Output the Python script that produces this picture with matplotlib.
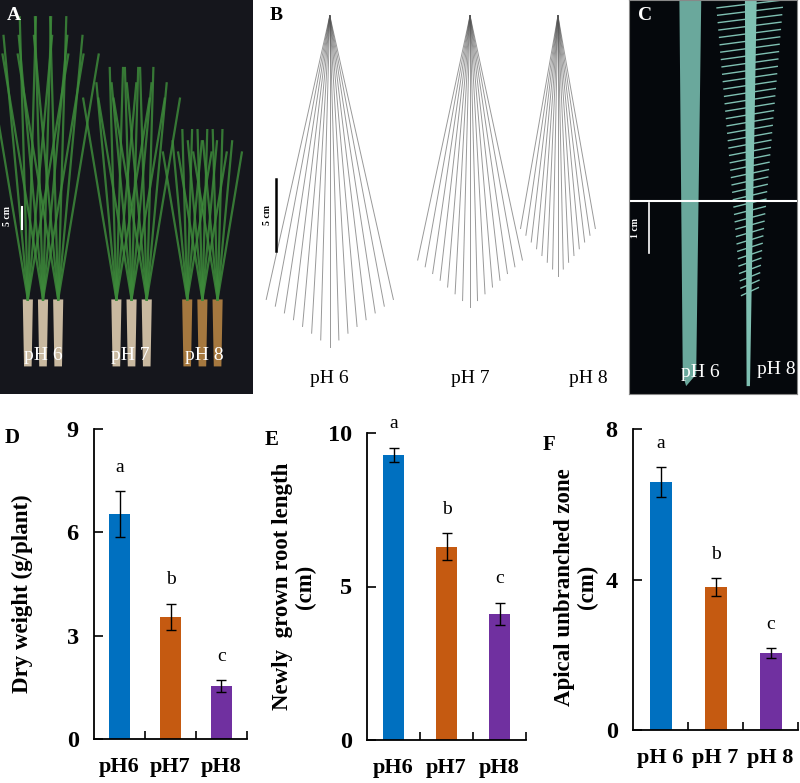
import matplotlib.pyplot as plt
import numpy as np
from matplotlib.patches import Polygon

plt.rcParams['font.family'] = ['Liberation Serif', 'DejaVu Serif']

W, H = 800, 783

# bar chart data (D, E, F)
groups_d = ['pH6', 'pH7', 'pH8']
dry_weight = [6.53, 3.54, 1.54]
dry_weight_err = [0.67, 0.38, 0.17]
letters_d = ['a', 'b', 'c']

groups_e = ['pH6', 'pH7', 'pH8']
root_length = [9.28, 6.30, 4.10]
root_length_err = [0.24, 0.43, 0.37]
letters_e = ['a', 'b', 'c']

groups_f = ['pH 6', 'pH 7', 'pH 8']
unbranched = [6.58, 3.79, 2.04]
unbranched_err = [0.40, 0.24, 0.13]
letters_f = ['a', 'b', 'c']

colors = ['#0070C0', '#C55A11', '#7030A0']

fig = plt.figure(figsize=(W / 100, H / 100), dpi=100)


def px_axes(x0, y0, x1, y1):
    # pixel box (top-left origin) -> figure axes
    return fig.add_axes([x0 / W, 1 - y1 / H, (x1 - x0) / W, (y1 - y0) / H])


def ftext(x, y, s, **kw):
    fig.text(x / W, 1 - y / H, s, ha='center', va='center', **kw)


def bare(ax):
    ax.set_xlim(0, 1); ax.set_ylim(0, 1)
    ax.set_xticks([]); ax.set_yticks([])


# ---------- photo panels (schematic) ----------
axA = px_axes(0, 0, 253, 394)
axA.set_facecolor('#15161c')
bare(axA)
for s in axA.spines.values():
    s.set_visible(False)
plant_base = [(0.17, 1.0), (0.52, 0.82), (0.80, 0.6)]
for bx, h in plant_base:
    for dx in (-0.06, 0.0, 0.06):
        x0 = bx + dx
        axA.add_patch(Polygon([[x0 - 0.02, 0.24], [x0 + 0.02, 0.24], [x0 + 0.015, 0.07],
                               [x0 - 0.015, 0.07]], closed=True,
                              color='#c9b9a0' if h > 0.7 else '#a5783f', lw=0))
        for a in np.linspace(-0.16, 0.16, 6):
            axA.plot([x0, x0 + a * h], [0.24, 0.24 + 0.74 * h * (1 - abs(a))],
                     color='#3d8a3a', lw=1.6, alpha=0.85)
axA.plot([22 / 253, 22 / 253], [1 - 207 / 394, 1 - 229 / 394], color='white', lw=1.5)
ftext(7, 216, '5 cm', color='white', fontsize=7, fontweight='bold', rotation=90)
ftext(14, 16, 'A', color='white', fontsize=14, fontweight='bold')
for x, lab in zip([43, 130, 204], ['pH 6', 'pH 7', 'pH 8']):
    ftext(x, 356, lab, color='white', fontsize=14)

axB = px_axes(255, 0, 629, 394)
bare(axB)
for s in axB.spines.values():
    s.set_visible(False)
for cx, spread, top, low in [(0.20, 0.17, 0.96, 0.12), (0.575, 0.14, 0.96, 0.22),
                             (0.81, 0.1, 0.96, 0.3)]:
    for a in np.linspace(-1, 1, 15):
        axB.plot([cx, cx + a * spread], [top, low + 0.12 * abs(a)], color='#555555',
                 lw=0.7, alpha=0.6)
axB.plot([21 / 374, 21 / 374], [1 - 179 / 394, 1 - 251 / 394], color='black', lw=1.8)
ftext(268, 215, '5 cm', color='black', fontsize=7, fontweight='bold', rotation=90)
ftext(276, 16, 'B', color='black', fontsize=14, fontweight='bold')
for x, lab in zip([329, 470, 588], ['pH 6', 'pH 7', 'pH 8']):
    ftext(x, 378, lab, color='black', fontsize=14)

axC = px_axes(629, 0, 797, 394)
axC.set_facecolor('#05080c')
bare(axC)
for s in axC.spines.values():
    s.set_color('#888888')
axC.add_patch(Polygon([[0.30, 1], [0.43, 1], [0.40, 0.05], [0.34, 0.02], [0.32, 0.05]],
                      closed=True, color='#6aa89c', lw=0))
axC.add_patch(Polygon([[0.69, 1], [0.76, 1], [0.72, 0.02], [0.70, 0.02]],
                      closed=True, color='#7fc0b2', lw=0))
for yy in np.linspace(0.25, 0.98, 40):
    ln = 0.05 + 0.2 * (yy - 0.25)
    axC.plot([0.72 - ln, 0.72 + ln], [yy, yy + 0.02], color='#7fc0b2', lw=1.0)
axC.axhline(1 - 201 / 394, color='white', lw=1.5)
axC.plot([20 / 168, 20 / 168], [1 - 203 / 394, 1 - 253 / 394], color='white', lw=1.2)
ftext(636, 228, '1 cm', color='white', fontsize=7, fontweight='bold', rotation=90)
ftext(645, 16, 'C', color='white', fontsize=14, fontweight='bold')
ftext(700, 373, 'pH 6', color='white', fontsize=14)
ftext(776, 370, 'pH 8', color='white', fontsize=14)


# ---------- bar charts ----------
def bar_panel(box, groups, vals, errs, letters, ymax, yticks, ylabel, lab_xy, panel, pxy):
    ax = px_axes(*box)
    x = np.arange(len(groups))
    ax.bar(x, vals, width=0.4, color=colors, zorder=2)
    ax.errorbar(x, vals, yerr=errs, fmt='none', ecolor='black', elinewidth=1,
                capsize=3.5, capthick=1, zorder=3)
    for xi, v, e, l in zip(x, vals, errs, letters):
        ax.text(xi, v + e + ymax * 0.05, l, ha='center', va='bottom', fontsize=14)
    ax.set_xlim(-0.5, 2.5)
    ax.set_ylim(0, ymax)
    ax.set_yticks(yticks)
    ax.set_xticks(x)
    ax.set_xticklabels(groups, fontsize=16, fontweight='bold')
    ax.set_xticks([0.5, 1.5, 2.5], minor=True)
    ax.tick_params(axis='x', which='major', length=0, pad=13)
    ax.tick_params(axis='x', which='minor', direction='in', length=6, width=1.2)
    ax.tick_params(axis='y', direction='in', length=6.5, width=1.2, pad=11, labelsize=17.5)
    for t in ax.get_yticklabels():
        t.set_fontweight('bold')
    for s in ['top', 'right']:
        ax.spines[s].set_visible(False)
    for s in ['left', 'bottom']:
        ax.spines[s].set_linewidth(1.3)
    ax.set_ylabel(ylabel, fontsize=16.5, fontweight='bold', linespacing=1.15)
    ax.yaxis.set_label_coords(*lab_xy)
    ftext(pxy[0], pxy[1], panel, fontsize=15, fontweight='bold')
    return ax


bar_panel((94, 429, 247, 739), groups_d, dry_weight, dry_weight_err, letters_d,
          9, [0, 3, 6, 9], 'Dry weight (g/plant)', (-0.40, 0.47), 'D', (12, 438))
bar_panel((367, 433, 526, 740), groups_e, root_length, root_length_err, letters_e,
          10, [0, 5, 10], 'Newly  grown root length\n(cm)', (-0.32, 0.50), 'E', (272, 440))
bar_panel((633, 429, 798, 730), groups_f, unbranched, unbranched_err, letters_f,
          8, [0, 4, 8], 'Apical unbranched zone\n(cm)', (-0.21, 0.475), 'F', (549, 445))

fig.savefig('out.png', dpi=100)
